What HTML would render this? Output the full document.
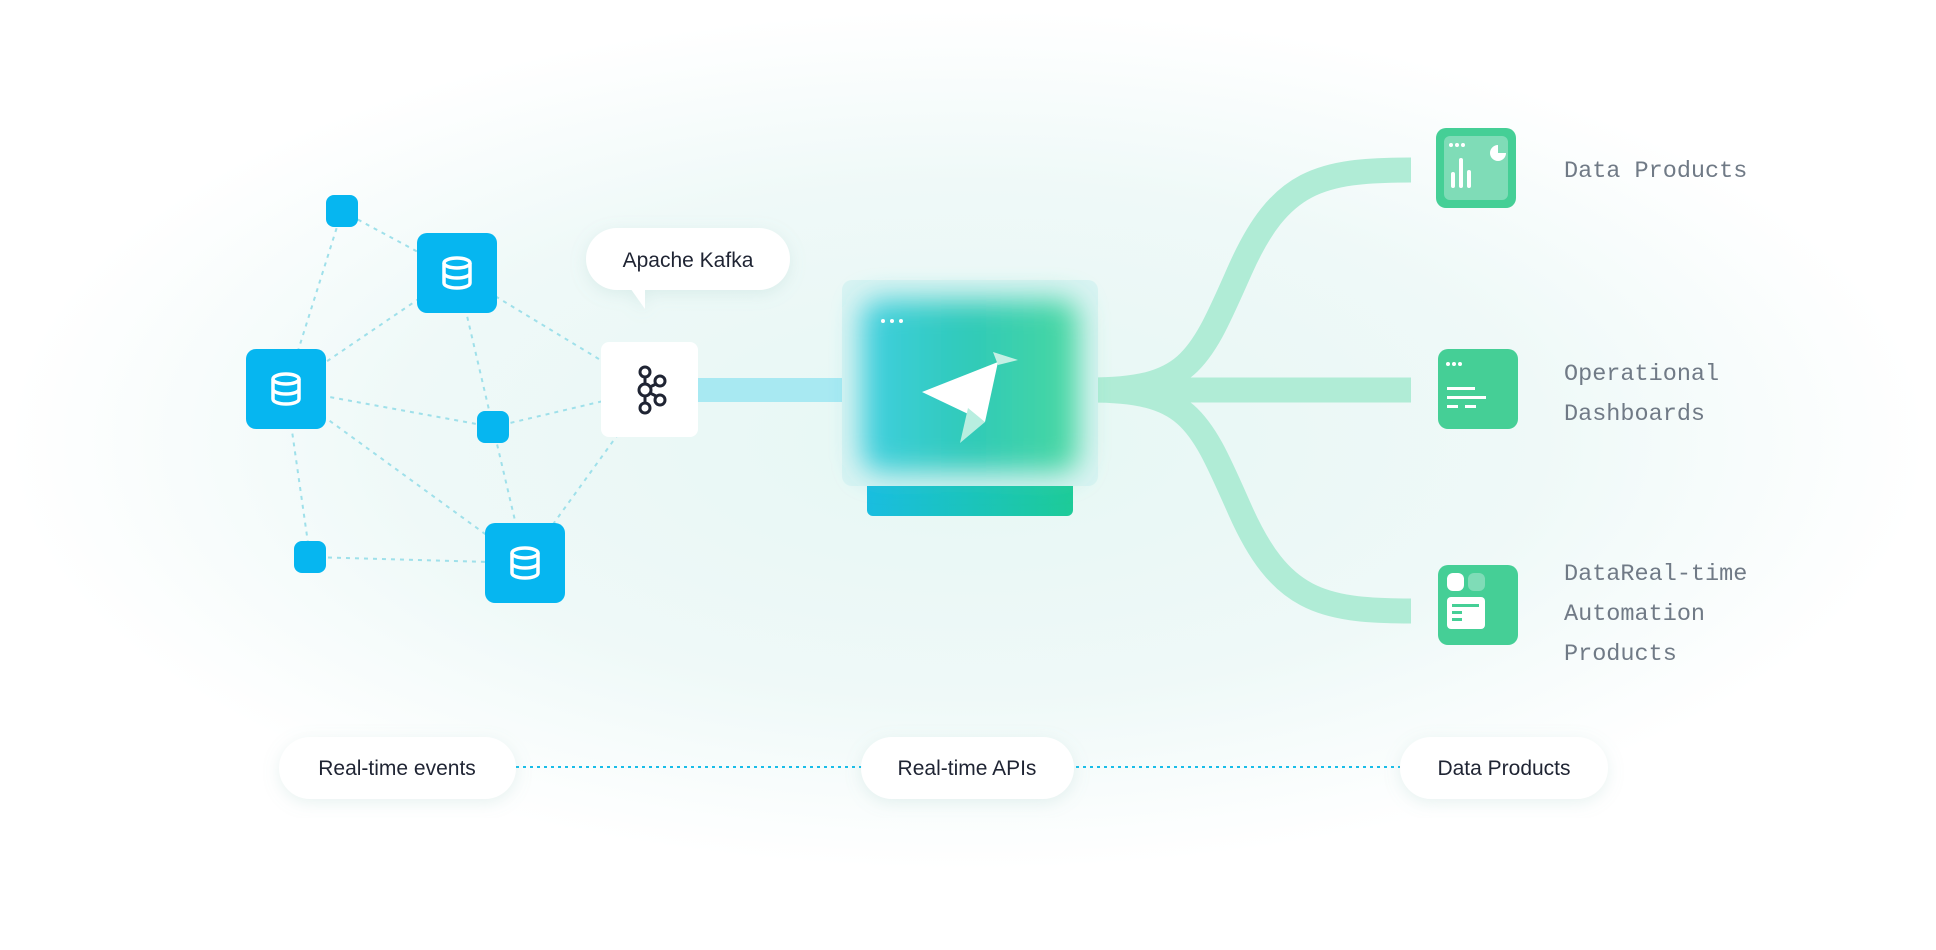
<!DOCTYPE html>
<html><head><meta charset="utf-8"><style>
html,body{margin:0;padding:0;width:1936px;height:950px;overflow:hidden;background:#fff}
</style></head><body>
<svg width="1936" height="950" viewBox="0 0 1936 950" xmlns="http://www.w3.org/2000/svg">
<defs>
<radialGradient id="bg" cx="0.5" cy="0.5" r="0.5">
<stop offset="0" stop-color="#e6f7f4"/><stop offset="0.6" stop-color="#eff9f8"/><stop offset="1" stop-color="#ffffff"/>
</radialGradient>
<linearGradient id="box" x1="0" y1="0" x2="1" y2="0">
<stop offset="0" stop-color="#3fcfe0"/><stop offset="0.5" stop-color="#2fcab8"/><stop offset="1" stop-color="#49d8a0"/>
</linearGradient>
<linearGradient id="base" x1="0" y1="0" x2="1" y2="0">
<stop offset="0" stop-color="#19bde0"/><stop offset="1" stop-color="#1dcb98"/>
</linearGradient>
<filter id="blur" x="-20%" y="-20%" width="140%" height="140%"><feGaussianBlur stdDeviation="14"/></filter>
<filter id="sh" x="-20%" y="-30%" width="140%" height="160%"><feDropShadow dx="0" dy="4" stdDeviation="8" flood-color="#7fb8b0" flood-opacity="0.18"/></filter>
<g id="db"><rect width="80" height="80" rx="10" fill="#06b6f0"/>
<g fill="none" stroke="#fff" stroke-width="3.5"><ellipse cx="40" cy="30" rx="13" ry="5"/><path d="M27 30v20c0 3 6 5 13 5s13-2 13-5V30M27 40c0 3 6 5 13 5s13-2 13-5"/></g></g>
</defs>
<rect width="1936" height="950" fill="#fff"/>
<ellipse cx="968" cy="440" rx="960" ry="430" fill="url(#bg)"/>
<g stroke="#9fe0ea" stroke-width="2" stroke-dasharray="4 5" fill="none">
<line x1="342" y1="211" x2="457" y2="273"/><line x1="342" y1="211" x2="286" y2="389"/>
<line x1="457" y1="273" x2="286" y2="389"/><line x1="457" y1="273" x2="493" y2="427"/>
<line x1="457" y1="273" x2="650" y2="390"/><line x1="286" y1="389" x2="493" y2="427"/>
<line x1="286" y1="389" x2="525" y2="563"/><line x1="286" y1="389" x2="310" y2="557"/>
<line x1="493" y1="427" x2="650" y2="390"/><line x1="493" y1="427" x2="525" y2="563"/>
<line x1="650" y1="390" x2="525" y2="563"/><line x1="310" y1="557" x2="525" y2="563"/>
</g>
<rect x="326" y="195" width="32" height="32" rx="8" fill="#06b6f0"/>
<rect x="477" y="411" width="32" height="32" rx="8" fill="#06b6f0"/>
<rect x="294" y="541" width="32" height="32" rx="8" fill="#06b6f0"/>
<use href="#db" x="417" y="233"/><use href="#db" x="246" y="349"/><use href="#db" x="485" y="523"/>
<rect x="698" y="378" width="160" height="24" fill="#a8e9f2"/>
<g fill="none" stroke="#b0ecd6" stroke-width="25">
<line x1="1090" y1="390" x2="1411" y2="390"/>
<path d="M1090 390 C1190 390 1200 360 1240 270 C1280 180 1320 170 1411 170"/>
<path d="M1090 390 C1190 390 1200 420 1240 510 C1280 600 1320 611 1411 611"/>
</g>
<rect x="601" y="342" width="97" height="95" rx="8" fill="#fff"/>
<g fill="none" stroke="#1f2433" stroke-width="3"><circle cx="645" cy="372" r="5"/><circle cx="645" cy="390" r="6"/><circle cx="645" cy="408" r="5"/><circle cx="660" cy="381" r="5"/><circle cx="660" cy="400" r="5"/>
<path d="M645 377v7M645 396v7M650 387l6-3M650 393l6 3"/></g>
<g filter="url(#sh)"><rect x="586" y="228" width="204" height="62" rx="31" fill="#fff"/><path d="M628 285 L645 285 L645 309 Z" fill="#fff"/></g>
<text x="688" y="267" font-family="Liberation Sans, sans-serif" font-size="21" fill="#1f2433" text-anchor="middle">Apache Kafka</text>
<rect x="867" y="470" width="206" height="46" rx="6" fill="url(#base)"/>
<rect x="842" y="280" width="256" height="206" rx="10" fill="#d9f3f2"/>
<rect x="862" y="300" width="216" height="172" rx="18" fill="url(#box)" filter="url(#blur)"/>
<g fill="#fff"><circle cx="883" cy="321" r="2"/><circle cx="892" cy="321" r="2"/><circle cx="901" cy="321" r="2"/></g>
<path d="M922 392 L998 362 L985 422 Z" fill="#fff"/>
<path d="M993 352 L1018 360 L998 365 Z" fill="#c4f0e4"/>
<path d="M985 422 L960 443 L968 408 Z" fill="#b8eee0"/>
<rect x="1436" y="128" width="80" height="80" rx="10" fill="#45cf96"/>
<rect x="1444" y="136" width="64" height="64" rx="6" fill="#7fdcb7"/>
<g fill="#fff"><circle cx="1451" cy="145" r="2"/><circle cx="1457" cy="145" r="2"/><circle cx="1463" cy="145" r="2"/>
<path d="M1498 145 a8 8 0 1 0 8 8 h-8 z"/>
<rect x="1451" y="172" width="4" height="16" rx="2"/><rect x="1459" y="158" width="4" height="30" rx="2"/><rect x="1467" y="170" width="4" height="18" rx="2"/></g>
<rect x="1438" y="349" width="80" height="80" rx="10" fill="#45cf96"/>
<g fill="#fff"><circle cx="1448" cy="364" r="2"/><circle cx="1454" cy="364" r="2"/><circle cx="1460" cy="364" r="2"/>
<rect x="1447" y="387" width="28" height="3"/><rect x="1447" y="396" width="39" height="3"/><rect x="1447" y="405" width="11" height="3"/><rect x="1465" y="405" width="11" height="3"/></g>
<rect x="1438" y="565" width="80" height="80" rx="10" fill="#45cf96"/>
<rect x="1447" y="573" width="17" height="18" rx="6" fill="#fff"/><rect x="1468" y="573" width="17" height="18" rx="6" fill="#7fdcb7"/>
<rect x="1447" y="597" width="38" height="32" rx="4" fill="#fff"/>
<g fill="#45cf96"><rect x="1452" y="604" width="27" height="3"/><rect x="1452" y="611" width="10" height="3"/><rect x="1452" y="618" width="10" height="3"/></g>
<g font-family="Liberation Mono, monospace" font-size="23.5" fill="#707a86">
<text x="1564" y="177">Data Products</text>
<text x="1564" y="380">Operational</text><text x="1564" y="420">Dashboards</text>
<text x="1564" y="580">DataReal-time</text><text x="1564" y="620">Automation</text><text x="1564" y="660">Products</text>
</g>
<line x1="516" y1="767" x2="1400" y2="767" stroke="#19bde8" stroke-width="2" stroke-dasharray="3 4"/>
<g filter="url(#sh)" fill="#fff">
<rect x="279" y="737" width="237" height="62" rx="31"/><rect x="861" y="737" width="213" height="62" rx="31"/><rect x="1400" y="737" width="208" height="62" rx="31"/></g>
<g font-family="Liberation Sans, sans-serif" font-size="21" fill="#1f2433" text-anchor="middle">
<text x="397" y="775">Real-time events</text><text x="967" y="775">Real-time APIs</text><text x="1504" y="775">Data Products</text></g>
</svg>
</body></html>
